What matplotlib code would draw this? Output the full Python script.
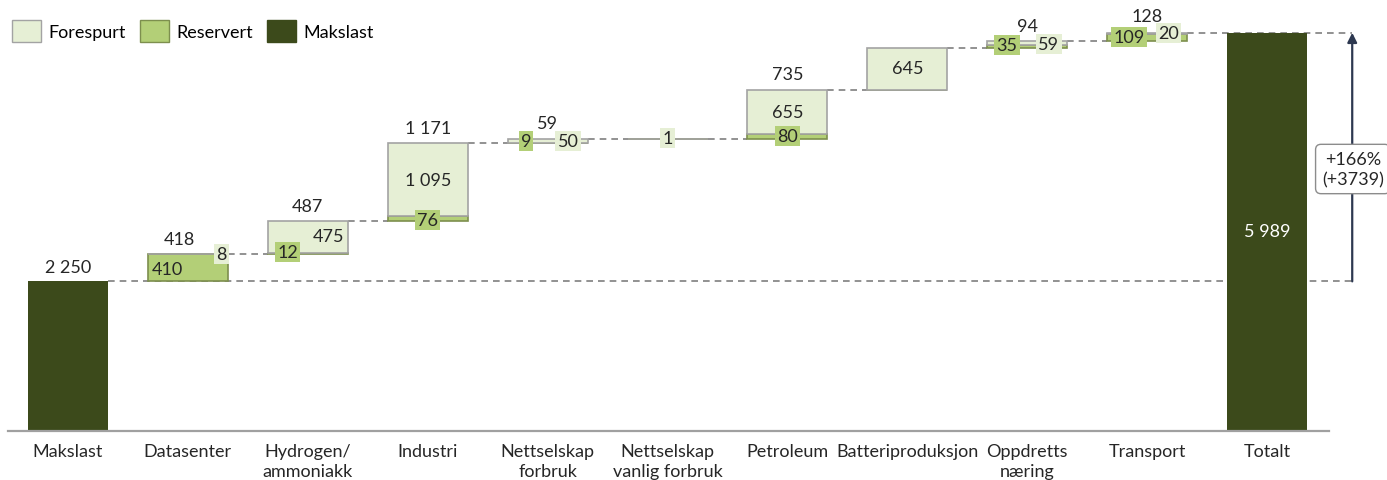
import matplotlib
matplotlib.use("Agg")
import matplotlib.pyplot as plt
from matplotlib.patches import Patch
import numpy as np

plt.rcParams['font.family'] = ['Lato', 'DejaVu Sans']

# ---- data ----
categories = ["Makslast", "Datasenter", "Hydrogen/\nammoniakk", "Industri",
              "Nettselskap\nforbruk", "Nettselskap\nvanlig forbruk", "Petroleum",
              "Batteriproduksjon", "Oppdretts\nnæring", "Transport", "Totalt"]
makslast = 2250
totalt = 5989
reservert = [410, 12, 76, 9, 0, 80, 0, 35, 109]
forespurt = [8, 475, 1095, 50, 1, 655, 645, 59, 20]
totals_label = ["418", "487", "1 171", "59", None, "735", None, "94", "128"]
reservert_label = ["410", "12", "76", "9", None, "80", None, "35", "109"]
forespurt_label = ["8", "475", "1 095", "50", "1", "655", "645", "59", "20"]
change_label = "+166%\n(+3739)"

# ---- style ----
C_FORE = "#e6efd5"
C_FORE_EDGE = "#a3a3a3"
C_RES = "#b3cf77"
C_RES_EDGE = "#7d8f4e"
C_MAKS = "#3c4a1b"
C_DASH = "#7f7f7f"
TXT = "#262626"
FS = 13

W, H = 1387, 481
fig = plt.figure(figsize=(W / 100, H / 100), dpi=100)
px_per_unit = 0.0665
ax = fig.add_axes([8 / W, 49 / H, (W - 8) / W, 432 / H])
ax.set_xlim(-0.5, 11.0)
ax.set_ylim(0, 432 / px_per_unit)
for s in ax.spines.values():
    s.set_visible(False)
ax.set_yticks([])

bw = 0.667
x = np.arange(len(categories))

# first / last bars
ax.bar(0, makslast, width=bw, color=C_MAKS, zorder=3)
ax.bar(10, totalt, width=bw, color=C_MAKS, zorder=3)

# middle bars
res = np.array(reservert, dtype=float)
fore = np.array(forespurt, dtype=float)
step = res + fore
base = makslast + np.concatenate([[0], np.cumsum(step)[:-1]])
tops = base + step
mid_x = x[1:10]

ax.bar(mid_x, res, bottom=base, width=bw, color=C_RES, edgecolor=C_RES_EDGE,
       linewidth=1.2, zorder=3)
ax.bar(mid_x, fore, bottom=base + res, width=bw, color=C_FORE,
       edgecolor=C_FORE_EDGE, linewidth=1.2, zorder=3)

# connectors
arrow_x = 10.71
ax.plot([0 + bw / 2, arrow_x], [makslast, makslast], ls=(0, (4, 3)),
        color=C_DASH, lw=1.2, zorder=2)
for i in range(len(mid_x) - 1):
    ax.plot([mid_x[i] + bw / 2, mid_x[i + 1] - bw / 2], [tops[i], tops[i]],
            ls=(0, (4, 3)), color=C_DASH, lw=1.2, zorder=2)
ax.plot([mid_x[-1] + bw / 2, arrow_x], [totalt, totalt], ls=(0, (4, 3)),
        color=C_DASH, lw=1.2, zorder=2)

# baseline
ax.plot([-0.5, 10.52], [0, 0], color="#a0a0a0", lw=1.6, clip_on=False, zorder=4)

# arrow
ax.annotate("", xy=(arrow_x, totalt), xytext=(arrow_x, makslast),
            arrowprops=dict(arrowstyle="-|>", color="#2d3850", lw=1.6,
                            mutation_scale=14, shrinkA=0, shrinkB=0), zorder=5)

def ypx(p):
    return (432 - p) / px_per_unit

ax.text(arrow_x + 0.005, ypx(170), change_label, ha="center", va="center", fontsize=FS,
        color=TXT, linespacing=1.35, zorder=6,
        bbox=dict(boxstyle="round,pad=0.35,rounding_size=0.3", fc="white",
                  ec="#8c8c8c", lw=1.0))

# value labels
ax.text(0, ypx(268), "2 250", ha="center", va="center", fontsize=FS, color=TXT)
ax.text(10, ypx(232), "5 989", ha="center", va="center", fontsize=FS, color="white", zorder=5)

# per-category label placement: (total dx, total ypx), (res dx, res ypx, boxed), (fore dx, fore ypx, boxed)
place = [
    ((-0.07, 240), (-0.17, 270, False), (0.28, 255, True)),
    ((0.0, 207), (-0.17, 253, True), (0.17, 237, False)),
    ((0.0, 129), (0.0, 221, True), (0.0, 181, False)),
    ((0.0, 124), (-0.18, 142, True), (0.17, 142, True)),
    (None, None, (0.0, 139, True)),
    ((0.0, 75), (0.0, 137, True), (0.0, 113, False)),
    (None, None, (0.0, 69, False)),
    ((0.0, 27), (-0.17, 46, True), (0.18, 45, True)),
    ((0.0, 17), (-0.15, 38, True), (0.18, 34, True)),
]
for i, (pt, pr, pf) in enumerate(place):
    cx = mid_x[i]
    if pt is not None and totals_label[i]:
        ax.text(cx + pt[0], ypx(pt[1]), totals_label[i], ha="center", va="center",
                fontsize=FS, color=TXT, zorder=6)
    if pr is not None and reservert_label[i]:
        bb = dict(boxstyle="square,pad=0.12", fc=C_RES, ec="none") if pr[2] else None
        ax.text(cx + pr[0], ypx(pr[1]), reservert_label[i], ha="center", va="center",
                fontsize=FS, color=TXT, bbox=bb, zorder=6)
    if pf is not None and forespurt_label[i]:
        bb = dict(boxstyle="square,pad=0.12", fc=C_FORE, ec="none") if pf[2] else None
        ax.text(cx + pf[0], ypx(pf[1]), forespurt_label[i], ha="center", va="center",
                fontsize=FS, color=TXT, bbox=bb, zorder=6)

ax.set_xticks(x)
ax.set_xticklabels(categories, fontsize=FS, color=TXT, linespacing=1.25)
ax.tick_params(axis="x", length=0, pad=9)

handles = [Patch(fc=C_FORE, ec=C_FORE_EDGE, lw=1.0, label="Forespurt"),
           Patch(fc=C_RES, ec=C_RES_EDGE, lw=1.0, label="Reservert"),
           Patch(fc=C_MAKS, ec=C_MAKS, lw=1.0, label="Makslast")]
fig.legend(handles=handles, loc="upper left", bbox_to_anchor=(12 / W, 1 - 21 / H),
           ncol=3, frameon=False, fontsize=FS, handlelength=1.6, handleheight=1.5,
           handletextpad=0.4, columnspacing=0.8, borderpad=0, borderaxespad=0)

fig.savefig("out.png", dpi=100)
